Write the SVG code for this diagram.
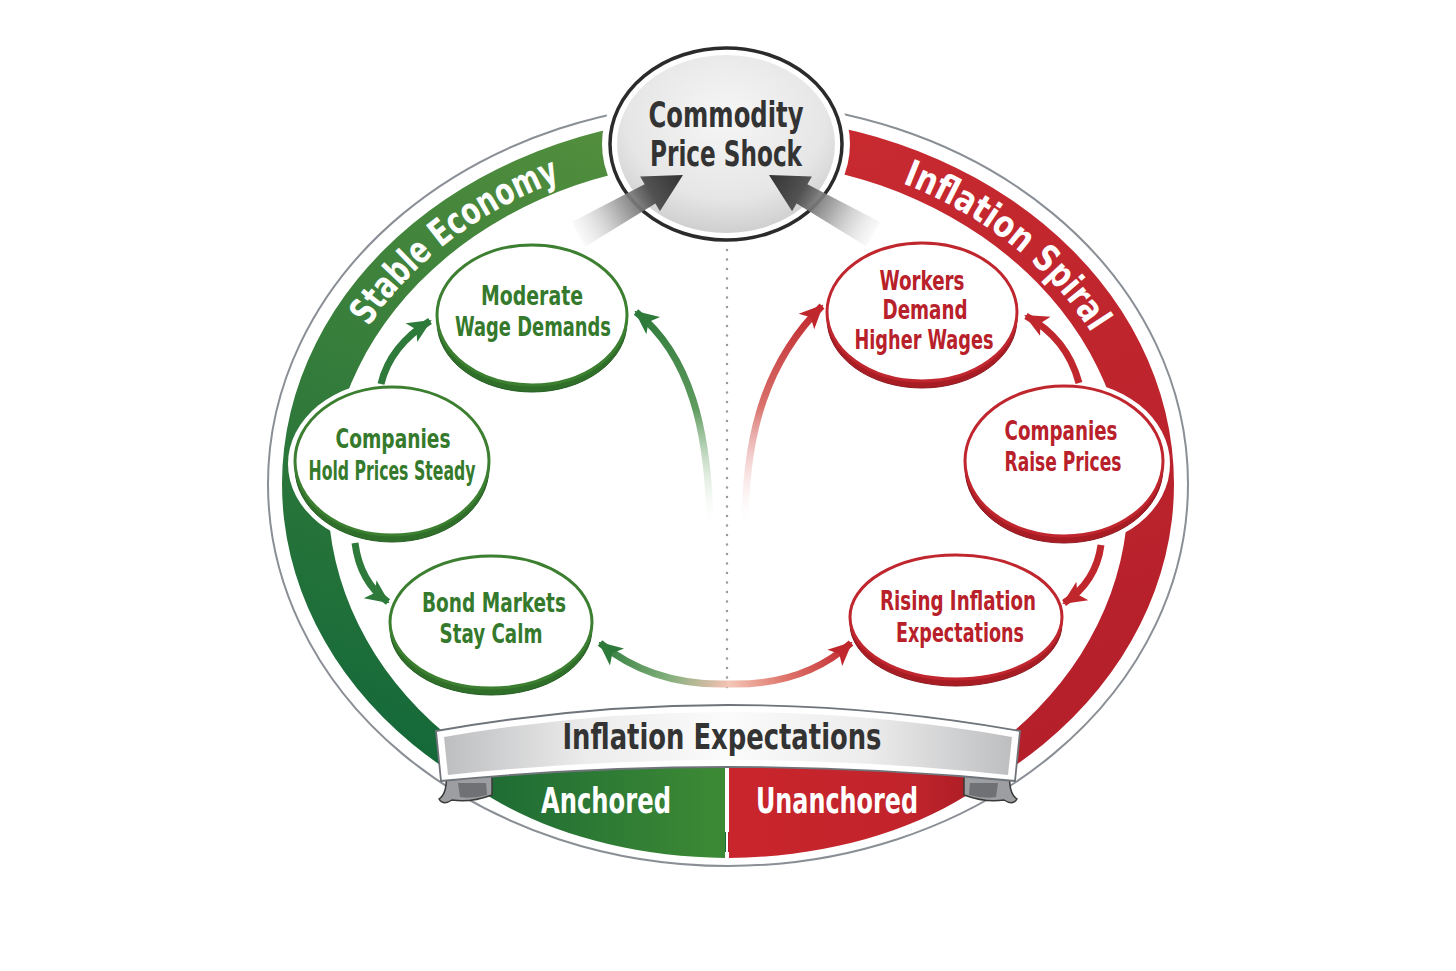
<svg xmlns="http://www.w3.org/2000/svg" width="1456" height="971" viewBox="0 0 1456 971">
<defs>
<style>
.t{font-family:'DejaVu Sans Condensed','Liberation Sans Narrow','Liberation Sans',sans-serif;font-weight:bold;text-anchor:middle}
.tp{text-anchor:start}
.tg{fill:#357a2c;font-size:27px}
.tr{fill:#b8202a;font-size:26px}
.tk{fill:#333333}
.tw{fill:#ffffff}
.halo{fill:#ffffff}
.face-g{fill:#ffffff;stroke:#3c7f30;stroke-width:3}
.rim-g{fill:#2f6f2a;stroke:#245d22;stroke-width:1}
.face-r{fill:#ffffff;stroke:#c0262d;stroke-width:3}
.rim-r{fill:#a81c24;stroke:#8e1820;stroke-width:1}
.sg{fill:none;stroke:#2e7a3a;stroke-width:7}
.sr{fill:none;stroke:#c0272d;stroke-width:7}
</style>
<clipPath id="clipL"><rect x="0" y="0" width="726" height="971"/></clipPath>
<clipPath id="clipR"><rect x="728" y="0" width="728" height="971"/></clipPath>
<linearGradient id="bandG" gradientUnits="userSpaceOnUse" x1="620" y1="120" x2="380" y2="760"><stop offset="0" stop-color="#548f3d"/><stop offset="1" stop-color="#136839"/></linearGradient>
<linearGradient id="bandR" gradientUnits="userSpaceOnUse" x1="830" y1="120" x2="1080" y2="760"><stop offset="0" stop-color="#c82a30"/><stop offset="1" stop-color="#b41f2a"/></linearGradient>
<linearGradient id="lensG" gradientUnits="userSpaceOnUse" x1="470" y1="0" x2="725" y2="0"><stop offset="0" stop-color="#1c6a34"/><stop offset="1" stop-color="#3d8a35"/></linearGradient>
<linearGradient id="lensR" gradientUnits="userSpaceOnUse" x1="729" y1="0" x2="985" y2="0"><stop offset="0" stop-color="#c9252c"/><stop offset="0.7" stop-color="#c2242c"/><stop offset="1" stop-color="#a81c24"/></linearGradient>
<linearGradient id="ribbon" gradientUnits="userSpaceOnUse" x1="444" y1="0" x2="1012" y2="0"><stop offset="0" stop-color="#bdbec0"/><stop offset="0.25" stop-color="#ececec"/><stop offset="0.5" stop-color="#fbfbfb"/><stop offset="0.75" stop-color="#ececec"/><stop offset="1" stop-color="#bdbec0"/></linearGradient>
<radialGradient id="shock" cx="0.5" cy="0.35" r="0.65"><stop offset="0" stop-color="#f6f6f6"/><stop offset="0.7" stop-color="#e6e6e6"/><stop offset="1" stop-color="#cfcfcf"/></radialGradient>
<linearGradient id="greyArr" gradientUnits="userSpaceOnUse" x1="578" y1="234" x2="683" y2="175"><stop offset="0" stop-color="#d8d8d8" stop-opacity="0.15"/><stop offset="0.4" stop-color="#9c9c9c" stop-opacity="0.85"/><stop offset="0.7" stop-color="#525252"/><stop offset="1" stop-color="#333333"/></linearGradient>
<linearGradient id="gC" gradientUnits="userSpaceOnUse" x1="728" y1="684" x2="600" y2="643"><stop offset="0" stop-color="#f4c2b4"/><stop offset="0.45" stop-color="#7fae7a"/><stop offset="1" stop-color="#2e7a3a"/></linearGradient>
<linearGradient id="gH" gradientUnits="userSpaceOnUse" x1="728" y1="684" x2="851" y2="643"><stop offset="0" stop-color="#f4c8b8"/><stop offset="0.4" stop-color="#e07a70"/><stop offset="1" stop-color="#c0272d"/></linearGradient>
<linearGradient id="gD" gradientUnits="userSpaceOnUse" x1="0" y1="312" x2="0" y2="528"><stop offset="0" stop-color="#2e7a3a"/><stop offset="0.45" stop-color="#5f9c5f"/><stop offset="1" stop-color="#ffffff" stop-opacity="0"/></linearGradient>
<linearGradient id="gE" gradientUnits="userSpaceOnUse" x1="0" y1="306" x2="0" y2="528"><stop offset="0" stop-color="#c0272d"/><stop offset="0.45" stop-color="#d9716c"/><stop offset="1" stop-color="#ffffff" stop-opacity="0"/></linearGradient>
<marker id="mG" viewBox="0 0 24 24" refX="22" refY="12" markerWidth="24" markerHeight="24" orient="auto" markerUnits="userSpaceOnUse"><path d="M0,1 L24,12 L0,23 L6,12 Z" fill="#2e7a3a"/></marker>
<marker id="mR" viewBox="0 0 24 24" refX="22" refY="12" markerWidth="24" markerHeight="24" orient="auto" markerUnits="userSpaceOnUse"><path d="M0,1 L24,12 L0,23 L6,12 Z" fill="#c0272d"/></marker>
<path id="arcStable" d="M 324.2 431.1 A 410 339 0 0 1 670.9 154.3"/>
<path id="arcSpiral" d="M 792.1 155.2 A 410 339 0 0 1 1133 437"/>
<path id="band" d="M 282 484 A 446 368 0 1 0 1174 484 A 446 368 0 1 0 282 484 Z M 328 496 A 400 336 0 1 0 1128 496 A 400 336 0 1 0 328 496 Z"/>
</defs>

<rect x="0" y="0" width="1456" height="971" fill="#ffffff"/>

<g id="frame">
<ellipse cx="728" cy="484" rx="460" ry="382" fill="none" stroke="#8a8f96" stroke-width="2"/>
<use href="#band" fill="url(#bandG)" fill-rule="evenodd" clip-path="url(#clipL)"/>
<use href="#band" fill="url(#bandR)" fill-rule="evenodd" clip-path="url(#clipR)"/>
<text class="t tw tp" font-size="37"><textPath href="#arcStable" startOffset="114" textLength="98" lengthAdjust="spacingAndGlyphs">Stable</textPath></text>
<text class="t tw tp" font-size="37"><textPath href="#arcStable" startOffset="221" textLength="138" lengthAdjust="spacingAndGlyphs">Economy</textPath></text>
<text class="t tw tp" font-size="37"><textPath href="#arcSpiral" startOffset="114" textLength="140" lengthAdjust="spacingAndGlyphs">Inflation</textPath></text>
<text class="t tw tp" font-size="37"><textPath href="#arcSpiral" startOffset="264" textLength="95" lengthAdjust="spacingAndGlyphs">Spiral</textPath></text>
<line x1="727" y1="250" x2="727" y2="692" stroke="#9a9a9a" stroke-width="2.5" stroke-linecap="round" stroke-dasharray="0 9.5"/>
</g>

<g id="node-shock">
<ellipse class="halo" cx="726" cy="144" rx="124" ry="104"/>
<ellipse cx="726" cy="144" rx="116" ry="96" fill="#ffffff" stroke="#2b2b2b" stroke-width="3.5"/>
<ellipse cx="726" cy="144" rx="109" ry="89" fill="url(#shock)"/>
<text class="t tk" x="726" y="127" font-size="35" textLength="155" lengthAdjust="spacingAndGlyphs">Commodity</text>
<text class="t tk" x="726" y="166" font-size="35" textLength="152" lengthAdjust="spacingAndGlyphs">Price Shock</text>
</g>

<g id="node-moderate">
<ellipse class="halo" cx="532" cy="318" rx="101" ry="79"/>
<ellipse class="rim-g" cx="532" cy="322" rx="95" ry="70"/>
<ellipse class="face-g" cx="532" cy="315" rx="95" ry="70"/>
<text class="t tg" x="532" y="305" textLength="102" lengthAdjust="spacingAndGlyphs">Moderate</text>
<text class="t tg" x="533" y="336" textLength="156" lengthAdjust="spacingAndGlyphs">Wage Demands</text>
</g>

<g id="node-hold">
<ellipse class="halo" cx="392" cy="464" rx="104" ry="83"/>
<ellipse class="rim-g" cx="392" cy="468" rx="97" ry="74"/>
<ellipse class="face-g" cx="392" cy="461" rx="97" ry="74"/>
<text class="t tg" x="393" y="448" textLength="115" lengthAdjust="spacingAndGlyphs">Companies</text>
<text class="t tg" x="392" y="480" font-size="23" textLength="167" lengthAdjust="spacingAndGlyphs">Hold Prices Steady</text>
</g>

<g id="node-bond">
<ellipse class="halo" cx="491" cy="625" rx="107" ry="75"/>
<ellipse class="rim-g" cx="491" cy="629" rx="101" ry="66"/>
<ellipse class="face-g" cx="491" cy="622" rx="101" ry="66"/>
<text class="t tg" x="494" y="612" textLength="144" lengthAdjust="spacingAndGlyphs">Bond Markets</text>
<text class="t tg" x="491" y="643" textLength="103" lengthAdjust="spacingAndGlyphs">Stay Calm</text>
</g>

<g id="node-workers">
<ellipse class="halo" cx="922" cy="315" rx="102" ry="78"/>
<ellipse class="rim-r" cx="922" cy="319" rx="95" ry="69"/>
<ellipse class="face-r" cx="922" cy="312" rx="95" ry="69"/>
<text class="t tr" x="922" y="290" textLength="85" lengthAdjust="spacingAndGlyphs">Workers</text>
<text class="t tr" x="925" y="319" textLength="85" lengthAdjust="spacingAndGlyphs">Demand</text>
<text class="t tr" x="924" y="349" textLength="139" lengthAdjust="spacingAndGlyphs">Higher Wages</text>
</g>

<g id="node-raise">
<ellipse class="halo" cx="1064" cy="464" rx="106" ry="84"/>
<ellipse class="rim-r" cx="1064" cy="468" rx="99" ry="75"/>
<ellipse class="face-r" cx="1064" cy="461" rx="99" ry="75"/>
<text class="t tr" x="1061" y="440" textLength="113" lengthAdjust="spacingAndGlyphs">Companies</text>
<text class="t tr" x="1063" y="471" textLength="117" lengthAdjust="spacingAndGlyphs">Raise Prices</text>
</g>

<g id="node-rising">
<ellipse class="halo" cx="956" cy="620" rx="112" ry="70"/>
<ellipse class="rim-r" cx="956" cy="624" rx="106" ry="62"/>
<ellipse class="face-r" cx="956" cy="617" rx="106" ry="62"/>
<text class="t tr" x="958" y="610" textLength="156" lengthAdjust="spacingAndGlyphs">Rising Inflation</text>
<text class="t tr" x="960" y="642" textLength="128" lengthAdjust="spacingAndGlyphs">Expectations</text>
</g>

<g id="connectors">
<path class="sg" d="M 381 384 Q 390 346 430 321" marker-end="url(#mG)"/>
<path class="sg" d="M 355 543 Q 360 582 388 602" marker-end="url(#mG)"/>
<path d="M 728 684 Q 652 686 600 643" fill="none" stroke="url(#gC)" stroke-width="7" marker-end="url(#mG)"/>
<path d="M 710 528 C 709 430 690 355 636 312" fill="none" stroke="url(#gD)" stroke-width="7" marker-end="url(#mG)"/>
<path d="M 745 528 C 745 430 768 360 822 306" fill="none" stroke="url(#gE)" stroke-width="7" marker-end="url(#mR)"/>
<path class="sr" d="M 1079 383 Q 1067 338 1026 316" marker-end="url(#mR)"/>
<path class="sr" d="M 1101 545 Q 1096 582 1064 603" marker-end="url(#mR)"/>
<path d="M 728 684 Q 804 686 851 643" fill="none" stroke="url(#gH)" stroke-width="7" marker-end="url(#mR)"/>
<polygon points="683,175 659.9,211.2 655.4,203.4 585.6,246.5 571.8,222.1 644.6,184.2 640.1,176.4" fill="url(#greyArr)"/>
<polygon points="683,175 659.9,211.2 655.4,203.4 585.6,246.5 571.8,222.1 644.6,184.2 640.1,176.4" fill="url(#greyArr)" transform="translate(1452,0) scale(-1,1)"/>
</g>

<g id="banner">
<path d="M 468 770 L 725 760 L 725 858 C 630 857 540 832 476 788 Z" fill="url(#lensG)"/>
<path d="M 986 770 L 729 760 L 729 858 C 824 857 914 832 978 788 Z" fill="url(#lensR)"/>
<g id="tail-left">
<path d="M 446 772 L 492 776 L 492 795 Q 470 803 452 800 Q 443 806 439 799 Q 448 793 446 772 Z" fill="#9c9ea1" stroke="#3a3a3a" stroke-width="1.5"/>
<path d="M 458 783 L 486 783 L 487 795 Q 472 799 460 797 Z" fill="#6f7175"/>
</g>
<g id="tail-right" transform="translate(1456,0) scale(-1,1)">
<path d="M 446 772 L 492 776 L 492 795 Q 470 803 452 800 Q 443 806 439 799 Q 448 793 446 772 Z" fill="#9c9ea1" stroke="#3a3a3a" stroke-width="1.5"/>
<path d="M 458 783 L 486 783 L 487 795 Q 472 799 460 797 Z" fill="#6f7175"/>
</g>
<path d="M 436 731 Q 728 679 1020 731 L 1015 781 Q 728 753 441 781 Z" fill="#ffffff" stroke="#6f747a" stroke-width="1.8"/>
<path d="M 444 737 Q 728 687 1012 737 L 1008 775 Q 728 745 448 775 Z" fill="url(#ribbon)"/>
<text class="t tk" x="722" y="749" font-size="36" textLength="319" lengthAdjust="spacingAndGlyphs">Inflation Expectations</text>
<text class="t tw" x="606" y="813" font-size="35" textLength="130" lengthAdjust="spacingAndGlyphs">Anchored</text>
<text class="t tw" x="837" y="813" font-size="35" textLength="162" lengthAdjust="spacingAndGlyphs">Unanchored</text>
</g>
</svg>
